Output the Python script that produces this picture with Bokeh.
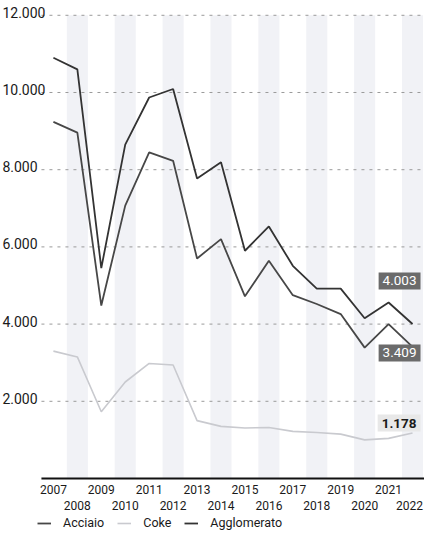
from bokeh.plotting import figure
from bokeh.models import Range1d, Legend, LegendItem
from bokeh.core.properties import value
from bokeh.embed import file_html
from bokeh.resources import INLINE

# ---- data ----
years = list(range(2007, 2023))
acciaio = [9240, 8960, 4480, 7070, 8450, 8230, 5700, 6200, 4720, 5640, 4750, 4520, 4260, 3390, 4000, 3409]
coke = [3300, 3150, 1730, 2500, 2980, 2940, 1500, 1350, 1310, 1320, 1220, 1190, 1150, 1000, 1040, 1178]
agglomerato = [10900, 10600, 5450, 8650, 9870, 10090, 7770, 8190, 5900, 6530, 5510, 4920, 4920, 4150, 4560, 4003]
y_ticks = [2000, 4000, 6000, 8000, 10000, 12000]
y_tick_labels = ["2.000", "4.000", "6.000", "8.000", "10.000", "12.000"]
year_labels = [str(y) for y in years]
label_acciaio = "3.409"
label_coke = "1.178"
label_agglomerato = "4.003"

FONT = value("Roboto")
x_lo = years[0] - 0.5
x_hi = years[-1] + 0.5

# frame covers the whole canvas; 0 sits 53px above the bottom edge
p = figure(width=424, height=531, output_backend="svg", toolbar_location=None,
           x_axis_location=None, y_axis_location=None,
           x_range=Range1d(2004.79, x_hi), y_range=Range1d(-1373, 12383),
           min_border_left=0, min_border_right=0, min_border_top=0, min_border_bottom=0)
p.outline_line_color = None
p.grid.visible = False
p.background_fill_color = "white"

# alternating column bands (even years)
band_years = years[1::2]
p.vbar(x=band_years, bottom=0, top=y_ticks[-1], width=0.88, color="#f1f2f6", line_color=None)

# dashed gridlines
p.segment(x0=[x_lo] * len(y_ticks), x1=[x_hi] * len(y_ticks), y0=y_ticks, y1=y_ticks,
          line_color="#9a9a9a", line_width=1, line_dash="3 5")

# y labels
p.text(x=[x_lo] * len(y_ticks), y=y_ticks, text=y_tick_labels, x_offset=-39, y_offset=-3,
       text_align="left", text_baseline="middle", text_font=FONT, text_font_size="14px",
       text_color="#1a1a1a")

# baseline
p.segment(x0=[x_lo], x1=[x_hi], y0=[0], y1=[0], line_color="#111111", line_width=2.2)

# staggered year labels (last one nudged to stay inside the edge)
odd_years, even_years = years[0::2], years[1::2]
even_shift = [-3 if y == years[-1] else 0 for y in even_years]
p.text(x=odd_years, y=[0] * len(odd_years), text=year_labels[0::2], y_offset=11,
       text_align="center", text_baseline="middle", text_font=FONT, text_font_size="12px",
       text_color="#1a1a1a")
p.text(x=even_years, y=[0] * len(even_years), text=year_labels[1::2], y_offset=27,
       x_offset=even_shift,
       text_align="center", text_baseline="middle", text_font=FONT, text_font_size="12px",
       text_color="#1a1a1a")

# series
r_coke = p.line(years, coke, line_color="#c9cacf", line_width=1.6)
r_acc = p.line(years, acciaio, line_color="#474747", line_width=1.8)
r_agg = p.line(years, agglomerato, line_color="#333333", line_width=1.8)

# end labels
p.text(x=[years[-1]], y=[agglomerato[-1]], text=[label_agglomerato], x_offset=8, y_offset=-43,
       text_align="right", text_baseline="middle", text_font=FONT, text_font_size="13.5px",
       text_color="white", background_fill_color="#6b6b6b", padding=4)
p.text(x=[years[-1]], y=[acciaio[-1]], text=[label_acciaio], x_offset=8, y_offset=6,
       text_align="right", text_baseline="middle", text_font=FONT, text_font_size="13.5px",
       text_color="white", background_fill_color="#6b6b6b", padding=4)
p.text(x=[years[-1]], y=[coke[-1]], text=[label_coke], x_offset=8, y_offset=-10,
       text_align="right", text_baseline="middle", text_font=FONT, text_font_size="13.5px",
       text_font_style="bold", text_color="#1a1a1a", background_fill_color="#e8e8e8", padding=4)

legend = Legend(items=[LegendItem(label="Acciaio", renderers=[r_acc]),
                       LegendItem(label="Coke", renderers=[r_coke]),
                       LegendItem(label="Agglomerato", renderers=[r_agg])],
                orientation="horizontal", location=(37, 1), padding=0, margin=0,
                glyph_width=14, glyph_height=14, label_height=14, label_standoff=12, spacing=13,
                label_text_font="Roboto", label_text_font_size="12.5px", label_text_color="#1a1a1a",
                border_line_color=None, background_fill_alpha=0)
p.add_layout(legend, "center")

open("out.html", "w").write(file_html(p, INLINE))
